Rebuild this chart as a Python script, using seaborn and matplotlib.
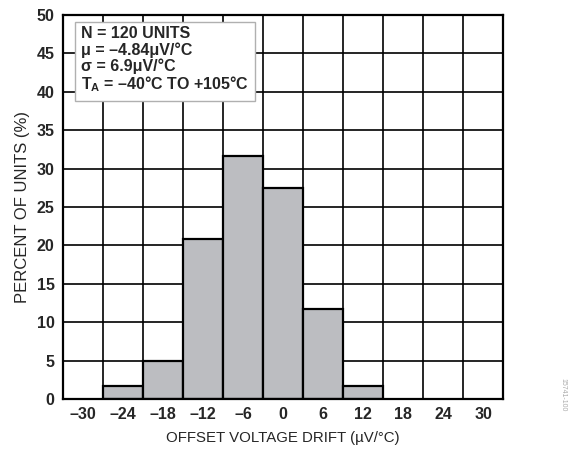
import numpy as np
import matplotlib
matplotlib.use("Agg")
import matplotlib.pyplot as plt
import seaborn as sns

# Histogram of offset voltage drift, 120 units
bin_centers = [-24, -18, -12, -6, 0, 6, 12]
percent_units = [1.67, 5.0, 20.83, 31.67, 27.5, 11.67, 1.67]
bin_edges = [-27, -21, -15, -9, -3, 3, 9, 15]
x_ticks = [-30, -24, -18, -12, -6, 0, 6, 12, 18, 24, 30]
y_ticks = [0, 5, 10, 15, 20, 25, 30, 35, 40, 45, 50]
info_lines = [
    "N = 120 UNITS",
    "μ = –4.84μV/°C",
    "σ = 6.9μV/°C",
    "T$_\\mathregular{A}$ = –40°C TO +105°C",
]

sns.set_theme(style="white")
plt.rcParams["font.family"] = ["Liberation Sans", "DejaVu Sans"]
plt.rcParams["mathtext.fontset"] = "custom"
plt.rcParams["mathtext.rm"] = "Liberation Sans:bold"

fig = plt.figure(figsize=(5.77, 4.49), dpi=100)
ax = fig.add_axes([0.109, 0.111, 0.763, 0.856])

sns.histplot(x=bin_centers, weights=percent_units, bins=bin_edges, ax=ax,
             color="#bcbdc1", alpha=1.0, edgecolor="black", linewidth=1.6,
             zorder=3)

ax.set_xlim(-33, 33)
ax.set_ylim(0, 50)

# grid: vertical lines at bin boundaries, horizontal at every 5 %
for gx in np.arange(-27, 28, 6):
    ax.axvline(gx, color="black", lw=1.2, zorder=1)
for gy in y_ticks[1:-1]:
    ax.axhline(gy, color="black", lw=1.2, zorder=1)

ax.set_xticks(x_ticks)
ax.set_xticklabels([str(t).replace("-", "–") for t in x_ticks],
                   fontsize=11.5, fontweight="bold")
ax.set_yticks(y_ticks)
ax.set_yticklabels([str(t) for t in y_ticks], fontsize=11.5, fontweight="bold")
ax.tick_params(axis="both", length=0, pad=6)

for s in ax.spines.values():
    s.set_color("black")
    s.set_linewidth(1.6)
    s.set_zorder(4)

ax.set_xlabel("OFFSET VOLTAGE DRIFT (µV/°C)", fontsize=10.8, labelpad=6)
ax.set_ylabel("PERCENT OF UNITS (%)", fontsize=12, labelpad=5)

ax.text(-30.3, 48.5, "\n".join(info_lines), fontsize=11.5, fontweight="bold",
        va="top", ha="left", linespacing=1.05, zorder=6,
        bbox=dict(boxstyle="square,pad=0.4", facecolor="white",
                  edgecolor="#b0b0b0", linewidth=1.0))

fig.text(0.975, 0.12, "15741-100", rotation=270, fontsize=5,
         color="#aaaaaa", ha="center", va="center")

fig.savefig("out.png", dpi=100, facecolor="white")
